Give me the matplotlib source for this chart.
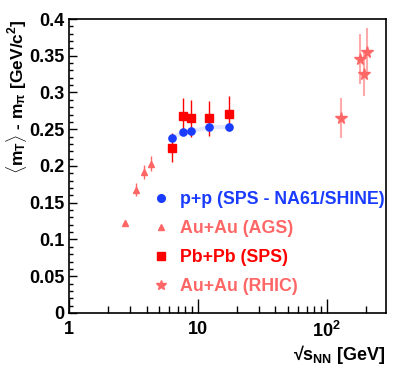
import matplotlib
matplotlib.use("Agg")
import matplotlib.pyplot as plt
from matplotlib.ticker import FixedLocator, FixedFormatter, MultipleLocator, NullFormatter
from matplotlib.lines import Line2D

plt.rcParams['font.family'] = ['Liberation Sans', 'DejaVu Sans']
plt.rcParams['font.weight'] = 'bold'
plt.rcParams['mathtext.fontset'] = 'custom'
plt.rcParams['mathtext.rm'] = 'Liberation Sans:bold'
plt.rcParams['mathtext.it'] = 'Liberation Sans:bold'
plt.rcParams['mathtext.bf'] = 'Liberation Sans:bold'

# p+p NA61/SHINE
pp_x = [6.3, 7.7, 8.8, 12.3, 17.3]
pp_y = [0.238, 0.246, 0.247, 0.253, 0.253]
pp_err = [0.004, 0.003, 0.003, 0.003, 0.003]

# Au+Au AGS
ags_x = [2.7, 3.3, 3.8, 4.3]
ags_y = [0.123, 0.168, 0.192, 0.203]
ags_err = [0.004, 0.009, 0.010, 0.010]

# Pb+Pb SPS
sps_x = [6.3, 7.7, 8.8, 12.3, 17.3]
sps_y = [0.225, 0.268, 0.265, 0.265, 0.271]
sps_err = [0.020, 0.025, 0.025, 0.024, 0.024]

# Au+Au RHIC
rhic_x = [130, 180, 196, 205]
rhic_y = [0.265, 0.345, 0.325, 0.355]
rhic_err = [0.027, 0.034, 0.030, 0.033]

blue = '#1a3cff'
pink = '#ff6666'
red = '#ff0000'

fig = plt.figure(figsize=(4.07, 3.69), dpi=100)
ax = fig.add_axes([0.1695, 0.1518, 0.7789, 0.7967])

ax.plot(pp_x, pp_y, color=blue, alpha=0.12, lw=3, zorder=1)
ax.errorbar(pp_x, pp_y, yerr=pp_err, fmt='o', color=blue, ms=5.2, elinewidth=1, zorder=4)
ax.errorbar(ags_x, ags_y, yerr=ags_err, fmt='^', color=pink, ms=4.5, elinewidth=1, zorder=3)
ax.errorbar(sps_x, sps_y, yerr=sps_err, fmt='s', color=red, ms=5.2, elinewidth=1, zorder=3)
ax.errorbar(rhic_x, rhic_y, yerr=rhic_err, fmt='none', ecolor='#ffaaaa', elinewidth=1.5, zorder=2)
ax.plot(rhic_x, rhic_y, '*', color=pink, ms=8.5, ls='none', zorder=3)

ax.set_xscale('log')
ax.set_xlim(1, 288)
ax.set_ylim(0, 0.4)

ax.xaxis.set_major_locator(FixedLocator([1, 10, 100]))
ax.xaxis.set_major_formatter(FixedFormatter(['1', '10', '$10^{2}$']))
ax.xaxis.set_minor_locator(FixedLocator([2, 3, 4, 5, 6, 7, 8, 9, 20, 30, 40, 50, 60, 70, 80, 90, 200]))
ax.xaxis.set_minor_formatter(NullFormatter())
ax.yaxis.set_minor_locator(MultipleLocator(0.01))
ax.set_yticks([0, 0.05, 0.1, 0.15, 0.2, 0.25, 0.3, 0.35, 0.4])
ax.set_yticklabels(['0', '0.05', '0.1', '0.15', '0.2', '0.25', '0.3', '0.35', '0.4'])

ax.tick_params(axis='both', which='both', direction='in', top=False, right=False,
               labelsize=13, width=1)
ax.tick_params(axis='y', which='major', length=6, pad=3)
ax.tick_params(axis='y', which='minor', length=3)
ax.tick_params(axis='x', which='major', length=10, pad=6)
ax.tick_params(axis='x', which='minor', length=5)
for s in ax.spines.values():
    s.set_linewidth(1.2)

ax.set_xlabel('√$s_{NN}$ [GeV]', fontsize=13, fontweight='bold', loc='right', labelpad=1)
ax.set_ylabel(r'$\langle$m$_{T}$$\rangle$ - m$_{\pi}$ [GeV/c$^{2}$]', fontsize=12.5,
              fontweight='bold', loc='top')
ax.yaxis.set_label_coords(-0.125, 1.0)

handles = [
    Line2D([], [], marker='o', color=blue, ls='none', ms=5.5),
    Line2D([], [], marker='^', color=pink, ls='none', ms=4.5),
    Line2D([], [], marker='s', color=red, ls='none', ms=5.5),
    Line2D([], [], marker='*', color=pink, ls='none', ms=7),
]
labels = ['p+p (SPS - NA61/SHINE)', 'Au+Au (AGS)', 'Pb+Pb (SPS)', 'Au+Au (RHIC)']
ax.legend(handles, labels, loc='upper left', bbox_to_anchor=(0.235, 0.445),
          frameon=False, labelcolor=[blue, pink, red, pink],
          prop={'weight': 'bold', 'size': 12.8}, handlelength=1.0,
          handletextpad=0.55, labelspacing=0.67, borderpad=0)

fig.savefig('out.png', dpi=100)
